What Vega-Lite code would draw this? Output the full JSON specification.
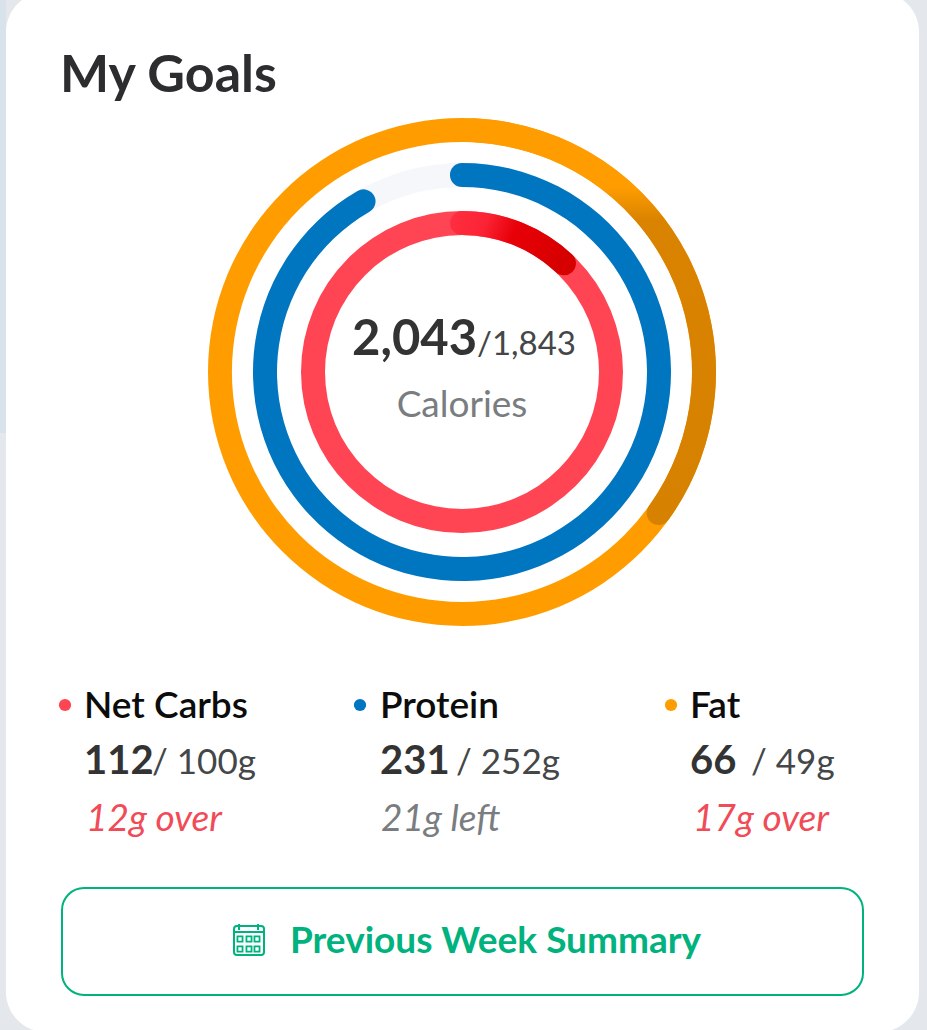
{
"$schema":"https://vega.github.io/schema/vega-lite/v6.json",
"width":913,"height":1040,
"padding":{"left":6,"right":8,"top":-8,"bottom":-2},
"autosize":"none",
"background":"#e4e8ed",
"config":{"view":{"fill":"#ffffff","stroke":null,"cornerRadius":40},"font":"Lato"},
"datasets":{
"rings":[
{"macro":"Track","start":0,"end":360,"ringFrom":3,"ringTo":4,"cx":0,"cy":0},
{"macro":"Net Carbs","start":0,"end":360,"ringFrom":1,"ringTo":2,"cx":0,"cy":0},
{"macro":"Fat","start":0,"end":360,"ringFrom":5,"ringTo":6,"cx":0,"cy":0},
{"macro":"Protein","start":-3.5,"end":333.5,"ringFrom":3,"ringTo":4,"cx":0,"cy":0}
],
"legend":[
{"col":1,"macro":"Net Carbs","value":"112","goal":"/ 100g","status":"12g over","state":"over"},
{"col":2,"macro":"Protein","value":"231","goal":"/ 252g","status":"21g left","state":"left"},
{"col":3,"macro":"Fat","value":"66","goal":"/ 49g","status":"17g over","state":"over"}
],
"cells":[
{"c":1,"r":1},{"c":2,"r":1},{"c":3,"r":1},{"c":1,"r":2},{"c":2,"r":2},{"c":3,"r":2}
]
},
"resolve":{"scale":{"x":"independent","y":"independent","color":"independent"}},
"layer":[
{"data":{"values":[{"part":"backdrop"}]},
 "mark":{"type":"rect","fill":"#d7e2ea"},
 "encoding":{
  "x":{"datum":0,"type":"quantitative","scale":{"domain":[0,1],"range":[-6,0]},"axis":null},
  "x2":{"datum":1},
  "y":{"datum":0,"type":"quantitative","scale":{"domain":[0,1],"range":[0,441]},"axis":null},
  "y2":{"datum":1}
 }},
{"data":{"name":"rings"},
 "mark":{"type":"arc","cornerRadius":12},
 "encoding":{
  "x":{"field":"cx","type":"quantitative","scale":{"domain":[0,1],"range":[456,457]},"axis":null},
  "y":{"field":"cy","type":"quantitative","scale":{"domain":[0,1],"range":[380,381]},"axis":null},
  "theta":{"field":"start","type":"quantitative","stack":null,"scale":{"domain":[0,360],"range":[0,6.2832]}},
  "theta2":{"field":"end"},
  "radius":{"field":"ringTo","type":"quantitative","scale":{"type":"linear","domain":[1,2,3,4,5,6],"range":[137,161,185,209,230,254]}},
  "radius2":{"field":"ringFrom"},
  "color":{"field":"macro","type":"nominal","legend":null,"scale":{"domain":["Track","Net Carbs","Protein","Fat"],"range":["#f5f7fb","#ff4553","#0075c0","#ff9d00"]}}
 }},
{"data":{"values":[{"macro":"Net Carbs","start":-4.6,"end":47.8,"ringFrom":1,"ringTo":2,"cx":0,"cy":0}]},
 "mark":{"type":"arc","cornerRadius":12,"color":{"gradient":"linear","x1":0,"y1":0,"x2":1,"y2":0.2,"stops":[{"offset":0,"color":"#ff2f41"},{"offset":0.3,"color":"#fb2436"},{"offset":0.55,"color":"#e80008"},{"offset":1,"color":"#d60000"}]}},
 "encoding":{
  "x":{"field":"cx","type":"quantitative","scale":{"domain":[0,1],"range":[456,457]},"axis":null},
  "y":{"field":"cy","type":"quantitative","scale":{"domain":[0,1],"range":[380,381]},"axis":null},
  "theta":{"field":"start","type":"quantitative","stack":null,"scale":{"domain":[0,360],"range":[0,6.2832]}},
  "theta2":{"field":"end"},
  "radius":{"field":"ringTo","type":"quantitative","scale":{"type":"linear","domain":[1,2,3,4,5,6],"range":[137,161,185,209,230,254]}},
  "radius2":{"field":"ringFrom"}
 }},
{"data":{"values":[{"macro":"Fat","start":0,"end":128.5,"ringFrom":5,"ringTo":6,"cx":0,"cy":0}]},
 "mark":{"type":"arc","cornerRadius":12,"color":{"gradient":"linear","x1":0,"y1":0,"x2":0,"y2":1,"stops":[{"offset":0,"color":"#ff9d00"},{"offset":0.17,"color":"#ff9d00"},{"offset":0.25,"color":"#d98300"},{"offset":1,"color":"#d68100"}]}},
 "encoding":{
  "x":{"field":"cx","type":"quantitative","scale":{"domain":[0,1],"range":[456,457]},"axis":null},
  "y":{"field":"cy","type":"quantitative","scale":{"domain":[0,1],"range":[380,381]},"axis":null},
  "theta":{"field":"start","type":"quantitative","stack":null,"scale":{"domain":[0,360],"range":[0,6.2832]}},
  "theta2":{"field":"end"},
  "radius":{"field":"ringTo","type":"quantitative","scale":{"type":"linear","domain":[1,2,3,4,5,6],"range":[137,161,185,209,230,254]}},
  "radius2":{"field":"ringFrom"}
 }},
{"data":{"values":[{"heading":"My Goals"}]},
 "mark":{"type":"text","align":"left","baseline":"alphabetic","fontSize":52,"fontWeight":"bold","color":"#2b2d2f"},
 "encoding":{
  "text":{"field":"heading"},
  "x":{"datum":0,"type":"quantitative","scale":{"domain":[0,1],"range":[54,55]},"axis":null},
  "y":{"datum":0,"type":"quantitative","scale":{"domain":[0,1],"range":[100,101]},"axis":null}
 }},
{"data":{"values":[{"eaten":"2,043"}]},
 "mark":{"type":"text","align":"left","baseline":"alphabetic","fontSize":49,"fontWeight":"bold","color":"#333333"},
 "encoding":{
  "text":{"field":"eaten"},
  "x":{"datum":0,"type":"quantitative","scale":{"domain":[0,1],"range":[346,347]},"axis":null},
  "y":{"datum":0,"type":"quantitative","scale":{"domain":[0,1],"range":[363,364]},"axis":null}
 }},
{"data":{"values":[{"target":"/1,843"}]},
 "mark":{"type":"text","align":"left","baseline":"alphabetic","fontSize":33,"color":"#444648"},
 "encoding":{
  "text":{"field":"target"},
  "x":{"datum":0,"type":"quantitative","scale":{"domain":[0,1],"range":[471,472]},"axis":null},
  "y":{"datum":0,"type":"quantitative","scale":{"domain":[0,1],"range":[363,364]},"axis":null}
 }},
{"data":{"values":[{"unit":"Calories"}]},
 "mark":{"type":"text","align":"center","baseline":"alphabetic","fontSize":37,"color":"#7a7d80"},
 "encoding":{
  "text":{"field":"unit"},
  "x":{"datum":0,"type":"quantitative","scale":{"domain":[0,1],"range":[456,457]},"axis":null},
  "y":{"datum":0,"type":"quantitative","scale":{"domain":[0,1],"range":[425,426]},"axis":null}
 }},
{"data":{"name":"legend"},
 "mark":{"type":"point","filled":true,"opacity":1,"size":150},
 "encoding":{
  "x":{"field":"col","type":"quantitative","scale":{"domain":[1,2,3],"range":[59,354,665]},"axis":null},
  "y":{"datum":0,"type":"quantitative","scale":{"domain":[0,1],"range":[713,714]},"axis":null},
  "color":{"field":"macro","type":"nominal","legend":null,"scale":{"domain":["Net Carbs","Protein","Fat"],"range":["#ff4553","#0075c0","#ff9d00"]}}
 }},
{"data":{"name":"legend"},
 "mark":{"type":"text","align":"left","baseline":"alphabetic","fontSize":37,"fontWeight":600,"color":"#0c0c0c"},
 "encoding":{
  "text":{"field":"macro"},
  "x":{"field":"col","type":"quantitative","scale":{"domain":[1,2,3],"range":[78,374,684]},"axis":null},
  "y":{"datum":0,"type":"quantitative","scale":{"domain":[0,1],"range":[726,727]},"axis":null}
 }},
{"data":{"name":"legend"},
 "mark":{"type":"text","align":"left","baseline":"alphabetic","fontSize":40,"fontWeight":"bold","color":"#333333"},
 "encoding":{
  "text":{"field":"value"},
  "x":{"field":"col","type":"quantitative","scale":{"domain":[1,2,3],"range":[78,374,684]},"axis":null},
  "y":{"datum":0,"type":"quantitative","scale":{"domain":[0,1],"range":[782,783]},"axis":null}
 }},
{"data":{"name":"legend"},
 "mark":{"type":"text","align":"left","baseline":"alphabetic","fontSize":35,"color":"#444648"},
 "encoding":{
  "text":{"field":"goal"},
  "x":{"field":"col","type":"quantitative","scale":{"domain":[1,2,3],"range":[146,450,745]},"axis":null},
  "y":{"datum":0,"type":"quantitative","scale":{"domain":[0,1],"range":[782,783]},"axis":null}
 }},
{"data":{"name":"legend"},
 "mark":{"type":"text","align":"left","baseline":"alphabetic","fontSize":37,"fontStyle":"italic","fontWeight":400},
 "encoding":{
  "text":{"field":"status"},
  "x":{"field":"col","type":"quantitative","scale":{"domain":[1,2,3],"range":[80,375,687]},"axis":null},
  "y":{"datum":0,"type":"quantitative","scale":{"domain":[0,1],"range":[839,840]},"axis":null},
  "color":{"field":"state","type":"nominal","legend":null,"scale":{"domain":["over","left"],"range":["#f04b57","#7a7d80"]}}
 }},
{"data":{"values":[{"button":"Previous Week Summary"}]},
 "mark":{"type":"rect","cornerRadius":22,"fill":"#ffffff","stroke":"#00b27d","strokeWidth":2},
 "encoding":{
  "x":{"datum":0,"type":"quantitative","scale":{"domain":[0,1],"range":[56,857]},"axis":null},
  "x2":{"datum":1},
  "y":{"datum":0,"type":"quantitative","scale":{"domain":[0,1],"range":[896,1003]},"axis":null},
  "y2":{"datum":1}
 }},
{"data":{"values":[{"button":"Previous Week Summary"}]},
 "mark":{"type":"text","align":"left","baseline":"alphabetic","fontSize":37,"fontWeight":"bold","color":"#00b27d"},
 "encoding":{
  "text":{"field":"button"},
  "x":{"datum":0,"type":"quantitative","scale":{"domain":[0,1],"range":[284,285]},"axis":null},
  "y":{"datum":0,"type":"quantitative","scale":{"domain":[0,1],"range":[961,962]},"axis":null}
 }},
{"data":{"values":[{"icon":"calendar"}]},
 "mark":{"type":"rect","cornerRadius":3,"fill":"#ffffff","stroke":"#00b27d","strokeWidth":2},
 "encoding":{
  "x":{"datum":0,"type":"quantitative","scale":{"domain":[0,1],"range":[228,258]},"axis":null},
  "x2":{"datum":1},
  "y":{"datum":0,"type":"quantitative","scale":{"domain":[0,1],"range":[934,963]},"axis":null},
  "y2":{"datum":1}
 }},
{"data":{"values":[{"icon":"header"}]},
 "mark":{"type":"rule","stroke":"#00b27d","strokeWidth":2},
 "encoding":{
  "x":{"datum":0,"type":"quantitative","scale":{"domain":[0,1],"range":[228,258]},"axis":null},
  "x2":{"datum":1},
  "y":{"datum":0,"type":"quantitative","scale":{"domain":[0,1],"range":[940,941]},"axis":null}
 }},
{"data":{"values":[{"tick":1},{"tick":2}]},
 "mark":{"type":"rule","stroke":"#00b27d","strokeWidth":2},
 "encoding":{
  "x":{"field":"tick","type":"quantitative","scale":{"domain":[1,2],"range":[233,252]},"axis":null},
  "y":{"datum":0,"type":"quantitative","scale":{"domain":[0,1],"range":[932,938]},"axis":null},
  "y2":{"datum":1}
 }},
{"data":{"name":"cells"},
 "mark":{"type":"point","shape":"square","size":26,"filled":false,"opacity":1,"stroke":"#00b27d","strokeWidth":1.8},
 "encoding":{
  "x":{"field":"c","type":"quantitative","scale":{"domain":[1,2,3],"range":[234,243,251]},"axis":null},
  "y":{"field":"r","type":"quantitative","scale":{"domain":[1,2],"range":[947,957]},"axis":null}
 }}
]
}
